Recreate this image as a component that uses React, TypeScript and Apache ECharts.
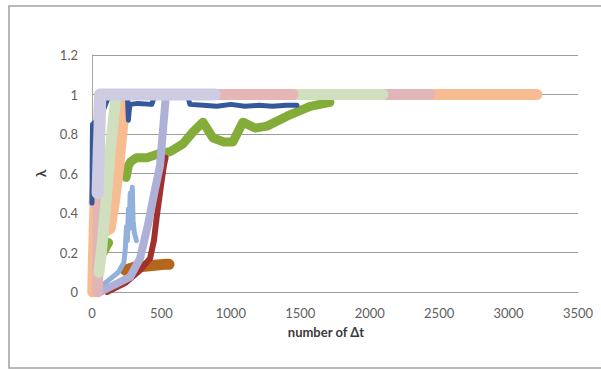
import React, { useEffect, useRef } from "react";
import * as echarts from "echarts";

// Axis ranges and ticks
const xMax = 3500;
const xStep = 500;
const yMax = 1.2;
const yStep = 0.2;

type Pt = [number, number | string];

// Each run: [number of Δt, λ]; "-" marks a break in a run
const runDarkBlue: Pt[] = [
  [0, 0.45], [1, 0.6], [2, 0.75], [4, 0.85], [60, 0.88], [120, 0.99], [255, 0.99],
  [262, 0.87], [268, 0.92], [275, 0.95], [330, 0.955], [430, 0.95], [450, 0.99],
  [690, 0.99], [705, 0.95], [800, 0.945], [900, 0.94], [1000, 0.95], [1100, 0.94],
  [1200, 0.945], [1300, 0.94], [1400, 0.945], [1476, 0.945],
];
const runGreen: Pt[] = [
  [80, 0.2], [120, 0.25], [180, "-"], [245, 0.58], [262, 0.64], [280, 0.66],
  [320, 0.68], [396, 0.68], [480, 0.7], [562, 0.71], [655, 0.75], [727, 0.81],
  [799, 0.86], [871, 0.78], [950, 0.76], [1015, 0.76], [1087, 0.86], [1174, 0.83],
  [1260, 0.84], [1404, 0.89], [1570, 0.94], [1713, 0.96],
];
const runBrown: Pt[] = [
  [240, 0.11], [300, 0.125], [380, 0.13], [450, 0.135], [520, 0.14], [555, 0.14],
];
const runRed: Pt[] = [
  [108, 0.0], [238, 0.045], [346, 0.11], [418, 0.17], [446, 0.26], [468, 0.39],
  [497, 0.54], [518, 0.64], [530, 0.68],
];
const runLightBlue: Pt[] = [
  [50, 0.02], [120, 0.06], [190, 0.1], [230, 0.15], [240, 0.22], [248, 0.33],
  [255, 0.26], [262, 0.42], [268, 0.32], [275, 0.5], [282, 0.4], [290, 0.53],
  [296, 0.36], [305, 0.3], [320, 0.26],
];
const runLavenderCurve: Pt[] = [
  [58, 0.0], [274, 0.076], [346, 0.17], [403, 0.34], [454, 0.52], [490, 0.64],
  [511, 0.82], [533, 1.0], [560, 1.0],
];
const runPeach: Pt[] = [
  [5, 0.0], [10, 0.15], [15, 0.3], [20, 0.42], [70, 0.3], [130, 0.32], [160, 0.45],
  [190, 0.62], [215, 0.8], [235, 0.95], [250, 1.0], [3204, 1.0],
];
const runDustyPink: Pt[] = [
  [40, 0.0], [45, 0.3], [50, 0.6], [55, 0.9], [60, 1.0], [2433, 1.0],
];
const runLightGreen: Pt[] = [
  [50, 0.1], [70, 0.22], [100, 0.45], [130, 0.7], [155, 0.88], [175, 1.0], [2095, 1.0],
];
const runPink: Pt[] = [
  [15, 0.45], [25, 0.55], [35, 0.64], [45, 0.8], [55, 1.0], [1447, 1.0],
];
const runLavender: Pt[] = [
  [40, 0.5], [48, 0.7], [55, 0.85], [60, 1.0], [885, 1.0],
];

// Drawing order: first entry sits at the bottom
const runs = [
  { name: "green", data: runGreen, color: "#84AC38", width: 9 },
  { name: "brown", data: runBrown, color: "#B4661A", width: 11 },
  { name: "red", data: runRed, color: "#A2312E", width: 6 },
  { name: "light blue", data: runLightBlue, color: "#92B0DC", width: 5 },
  { name: "lavender curve", data: runLavenderCurve, color: "#AEB0D8", width: 8 },
  { name: "peach", data: runPeach, color: "#F8BC92", width: 11 },
  { name: "dusty pink", data: runDustyPink, color: "#E0B5B8", width: 11 },
  { name: "light green", data: runLightGreen, color: "#D0DFBD", width: 11 },
  { name: "pink", data: runPink, color: "#E6B5B5", width: 11 },
  { name: "dark blue", data: runDarkBlue, color: "#34589A", width: 5 },
  { name: "lavender", data: runLavender, color: "#CDCCE3", width: 12 },
];

const FONT = "Lato, 'Liberation Sans', sans-serif";

export default function App() {
  const ref = useRef<HTMLDivElement>(null);

  useEffect(() => {
    document.body.style.margin = "0";
    const chart = echarts.init(ref.current!, null, { renderer: "svg" });
    chart.setOption({
      animation: false,
      backgroundColor: "#ffffff",
      grid: { left: 92, right: 23, top: 55, bottom: 77, containLabel: false },
      graphic: [
        {
          type: "rect",
          shape: { x: 9, y: 6, width: 600, height: 362 },
          style: { fill: "none", stroke: "#a3a3a3", lineWidth: 1.6 },
          silent: true,
        },
      ],
      xAxis: {
        type: "value",
        min: 0,
        max: xMax,
        interval: xStep,
        name: "number of Δt",
        nameLocation: "middle",
        nameGap: 33,
        nameTextStyle: {
          fontFamily: FONT,
          fontSize: 13,
          fontWeight: "bold",
          color: "#3a3a3a",
          padding: [0, 18, 0, 0],
        },
        axisLine: { show: true, lineStyle: { color: "#9c9c9c", width: 1 } },
        axisTick: { show: false },
        axisLabel: {
          margin: 14,
          fontFamily: FONT,
          fontSize: 13,
          color: "#5f5f5f",
          formatter: (v: number) => String(v),
        },
        splitLine: { show: false },
      },
      yAxis: {
        type: "value",
        min: 0,
        max: yMax,
        interval: yStep,
        name: "λ",
        nameLocation: "middle",
        nameGap: 45,
        nameRotate: 90,
        nameTextStyle: {
          fontFamily: FONT,
          fontSize: 14,
          fontWeight: "bold",
          color: "#3a3a3a",
        },
        axisLine: { show: true, lineStyle: { color: "#a6a6a6", width: 1 } },
        axisTick: { show: false },
        axisLabel: {
          margin: 14,
          fontFamily: FONT,
          fontSize: 13,
          color: "#5f5f5f",
          formatter: (v: number) => String(Math.round(v * 10) / 10),
        },
        splitLine: { show: true, lineStyle: { color: "#9c9c9c", width: 1 } },
      },
      series: runs.map((r) => ({
        type: "line",
        name: r.name,
        data: r.data,
        symbol: "none",
        showSymbol: false,
        connectNulls: false,
        silent: true,
        lineStyle: { color: r.color, width: r.width, cap: "round", join: "round" },
      })),
    });
    return () => chart.dispose();
  }, []);

  return <div ref={ref} style={{ width: 601, height: 369 }} />;
}
